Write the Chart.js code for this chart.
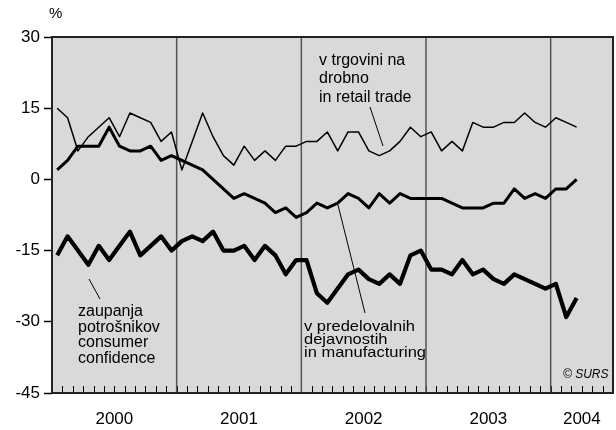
<!DOCTYPE html>
<html>
<head>
<meta charset="utf-8">
<script src="https://cdn.jsdelivr.net/npm/chart.js@4.4.1/dist/chart.umd.min.js"></script>
<style>
body { margin: 0; background: #fff; }
</style>
</head>
<body>
<canvas id="chart" width="616" height="430"></canvas>
<script>
var years = ["2000", "2001", "2002", "2003", "2004"];
var monthsShown = [12, 12, 12, 12, 6];
// monthly balances, Jan 2000 - Mar 2004
var retail = [15, 13, 6, 9, 11, 13, 9, 14, 13, 12, 8, 10,
    2, 8, 14, 9, 5, 3, 7, 4, 6, 4, 7, 7,
    8, 8, 10, 6, 10, 10, 6, 5, 6, 8, 11, 9,
    10, 6, 8, 6, 12, 11, 11, 12, 12, 14, 12, 11,
    13, 12, 11];
var manufacturing = [2, 4, 7, 7, 7, 11, 7, 6, 6, 7, 4, 5,
    4, 3, 2, 0, -2, -4, -3, -4, -5, -7, -6, -8,
    -7, -5, -6, -5, -3, -4, -6, -3, -5, -3, -4, -4,
    -4, -4, -5, -6, -6, -6, -5, -5, -2, -4, -3, -4,
    -2, -2, 0];
var consumer = [-16, -12, -15, -18, -14, -17, -14, -11, -16, -14, -12, -15,
    -13, -12, -13, -11, -15, -15, -14, -17, -14, -16, -20, -17,
    -17, -24, -26, -23, -20, -19, -21, -22, -20, -22, -16, -15,
    -19, -19, -20, -17, -20, -19, -21, -22, -20, -21, -22, -23,
    -22, -29, -25];

var labels = [];
for (var y = 0; y < years.length; y++) {
    for (var m = 1; m <= monthsShown[y]; m++) {
        labels.push(years[y] + "-" + m);
    }
}

var FONT = '"Liberation Sans", Arial, sans-serif';

function drawLines(ctx, lines, x, y, lh) {
    for (var i = 0; i < lines.length; i++) {
        ctx.fillText(lines[i], x, y + i * lh);
    }
}
function leader(ctx, x1, y1, x2, y2) {
    ctx.beginPath();
    ctx.moveTo(x1, y1);
    ctx.lineTo(x2, y2);
    ctx.stroke();
}

var decor = {
    id: "decor",
    beforeDraw: function (chart) {
        var a = chart.chartArea, ctx = chart.ctx;
        ctx.save();
        ctx.fillStyle = "#d9d9d9";
        ctx.fillRect(a.left, a.top, a.right - a.left, a.bottom - a.top);
        ctx.restore();
    },
    beforeDatasetsDraw: function (chart) {
        var a = chart.chartArea, ctx = chart.ctx, xs = chart.scales.x;
        var step = xs.getPixelForValue(1) - xs.getPixelForValue(0);
        var start = xs.getPixelForValue(0) - step / 2;
        ctx.save();
        ctx.strokeStyle = "#000";
        ctx.lineWidth = 1;
        for (var i = 1; i < labels.length; i++) {
            var x = Math.round(start + i * step) + 0.5;
            leader(ctx, x, a.bottom, x, a.bottom - 7);
        }
        ctx.strokeStyle = "#555";
        ctx.lineWidth = 1.5;
        var idx = 0;
        for (var y = 0; y < years.length - 1; y++) {
            idx += monthsShown[y];
            var xx = start + idx * step;
            leader(ctx, xx, a.top, xx, a.bottom);
        }
        ctx.restore();
    },
    afterDraw: function (chart) {
        var a = chart.chartArea, ctx = chart.ctx, xs = chart.scales.x;
        var step = xs.getPixelForValue(1) - xs.getPixelForValue(0);
        var start = xs.getPixelForValue(0) - step / 2;
        ctx.save();
        ctx.strokeStyle = "#222";
        ctx.lineWidth = 2;
        ctx.strokeRect(a.left, a.top, a.right - a.left, a.bottom - a.top);

        ctx.fillStyle = "#000";
        ctx.textBaseline = "alphabetic";
        ctx.textAlign = "center";
        ctx.font = "17px " + FONT;
        var idx = 0;
        for (var y = 0; y < years.length; y++) {
            var mid = start + (idx + monthsShown[y] / 2) * step;
            ctx.fillText(years[y], mid, 424);
            idx += monthsShown[y];
        }

        ctx.textAlign = "left";
        ctx.font = "15px " + FONT;
        ctx.fillText("%", 49, 18);

        ctx.font = "16px " + FONT;
        drawLines(ctx, ["v trgovini na", "drobno", "in retail trade"], 319, 65, 18.3);
        drawLines(ctx, ["zaupanja", "potrošnikov", "consumer", "confidence"], 78, 316, 15.6);

        ctx.save();
        ctx.translate(304, 330.7);
        ctx.scale(1.1, 1);
        ctx.font = "15px " + FONT;
        drawLines(ctx, ["v predelovalnih", "dejavnostih", "in manufacturing"], 0, 0, 13);
        ctx.restore();

        ctx.font = "italic 12px " + FONT;
        ctx.fillText("© SURS", 563, 378);

        ctx.strokeStyle = "#000";
        ctx.lineWidth = 1;
        leader(ctx, 370, 107, 383, 146);
        leader(ctx, 89, 279, 100, 299);
        leader(ctx, 338, 205, 365, 313);
        ctx.restore();
    }
};

new Chart("chart", {
    type: "line",
    data: {
        labels: labels,
        datasets: [{
            label: "v trgovini na drobno",
            data: retail,
            borderColor: "#000",
            borderWidth: 1.5
        }, {
            label: "v predelovalnih dejavnostih",
            data: manufacturing,
            borderColor: "#000",
            borderWidth: 3
        }, {
            label: "zaupanja potrošnikov",
            data: consumer,
            borderColor: "#000",
            borderWidth: 4.2
        }]
    },
    options: {
        responsive: false,
        animation: false,
        devicePixelRatio: 1,
        layout: { padding: { top: 37, right: 3, left: 0, bottom: 0 } },
        elements: {
            point: { radius: 0 },
            line: { tension: 0, borderJoinStyle: "round", borderCapStyle: "butt" }
        },
        plugins: {
            legend: { display: false },
            tooltip: { enabled: false }
        },
        scales: {
            x: {
                type: "category",
                offset: true,
                grid: { display: false },
                ticks: { display: false },
                border: { display: false },
                afterFit: function (scale) { scale.height = 37; }
            },
            y: {
                min: -45,
                max: 30,
                ticks: {
                    stepSize: 15,
                    color: "#000",
                    padding: 4,
                    font: { family: FONT, size: 17 }
                },
                grid: {
                    drawOnChartArea: false,
                    drawTicks: true,
                    tickLength: 8,
                    tickColor: "#000",
                    tickWidth: 1.5
                },
                border: { display: false },
                afterFit: function (scale) { scale.width = 52; }
            }
        }
    },
    plugins: [decor]
});
</script>
</body>
</html>
